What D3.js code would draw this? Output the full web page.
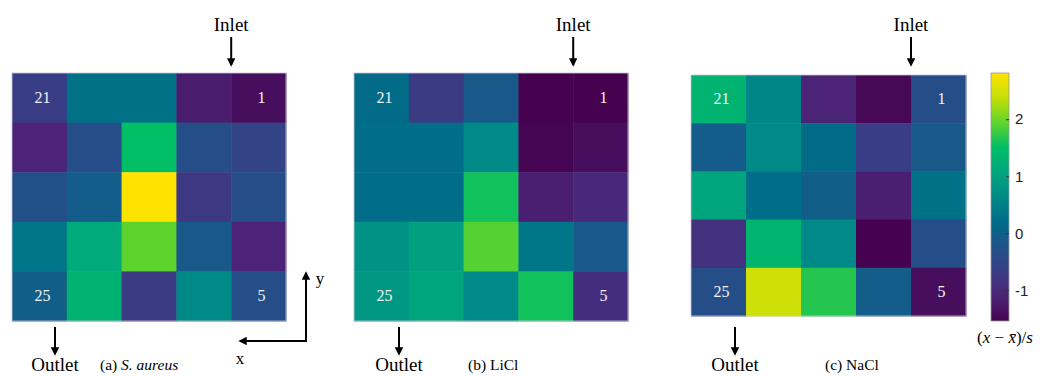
<!DOCTYPE html>
<html>
<head>
<meta charset="utf-8">
<script src="https://cdn.jsdelivr.net/npm/d3@7"></script>
<style>
  html, body { margin: 0; padding: 0; background: #fff; }
  svg { display: block; }
</style>
</head>
<body>
<svg id="chart" width="1040" height="376"></svg>
<script>
// ---- data (rows top -> bottom, columns left -> right), standardized values ----
const panelNames = ["(a) ", "(b) LiCl", "(c) NaCl"];
const rows = [0, 1, 2, 3, 4];
const cols = [0, 1, 2, 3, 4];
const valuesSAureus = [
  [-0.68, 0.28, 0.28, -1.20, -1.38],
  [-1.10, -0.33, 1.50, -0.33, -0.55],
  [-0.29, -0.07, 2.80, -0.77, -0.33],
  [0.32, 1.15, 1.93, -0.12, -1.10],
  [-0.03, 1.28, -0.72, 0.63, -0.33]
];
const valuesLiCl = [
  [0.19, -0.72, -0.12, -1.55, -1.55],
  [0.23, 0.23, 0.63, -1.50, -1.38],
  [0.23, 0.23, 1.58, -1.16, -1.03],
  [0.76, 0.97, 1.89, 0.36, -0.12],
  [0.84, 1.06, 0.63, 1.58, -0.94]
];
const valuesNaCl = [
  [1.32, 0.58, -1.10, -1.46, -0.33],
  [-0.07, 0.63, 0.19, -0.68, -0.12],
  [1.06, 0.23, -0.03, -1.16, 0.28],
  [-0.90, 1.36, 0.63, -1.55, -0.33],
  [-0.33, 2.45, 1.67, -0.07, -1.38]
];
const labeledCells = [21, 1, 25, 5];
const colorDomain = [-1.54, 2.81];
const colorTicks = [-1, 0, 1, 2];
// colormap stops (viridis-like, as rendered in the figure)
const cmapColors = ["#46024f", "#4b2377", "#393e85", "#20528a", "#006c88", "#008a87",
                    "#00a67e", "#00bd66", "#5fd52c", "#c4df08", "#ffe300"];

// ---- layout ----
const svg = d3.select("#chart");
const panels = [
  { values: valuesSAureus, x0: 12, x1: 286, y0: 73, y1: 321, outlet: 55, italic: "S. aureus" },
  { values: valuesLiCl,   x0: 354, x1: 628, y0: 73, y1: 321, outlet: 399, italic: null },
  { values: valuesNaCl,   x0: 691, x1: 966, y0: 75, y1: 316, outlet: 735, italic: null }
];
const captionX = [100, 468, 825];
const color = d3.scaleLinear()
  .domain(cmapColors.map((_, i) => colorDomain[0] + i / (cmapColors.length - 1) * (colorDomain[1] - colorDomain[0])))
  .range(cmapColors).interpolate(d3.interpolateRgb).clamp(true);

const defs = svg.append("defs");
defs.append("marker").attr("id", "arr").attr("viewBox", "0 0 10 10")
  .attr("refX", 8).attr("refY", 5).attr("markerWidth", 4.2).attr("markerHeight", 4.2)
  .attr("markerUnits", "strokeWidth").attr("orient", "auto")
  .append("path").attr("d", "M0,0 L10,5 L0,10 Z").attr("fill", "#000");

const serif = "'Liberation Serif', 'DejaVu Serif', serif";

panels.forEach((p, i) => {
  const x = d3.scaleBand().domain(cols).range([p.x0, p.x1]);
  const y = d3.scaleBand().domain(rows).range([p.y0, p.y1]);
  const g = svg.append("g");
  const cells = [];
  rows.forEach(r => cols.forEach(c => cells.push({ r, c, v: p.values[r][c], n: (4 - c) * 5 + r + 1 })));
  g.selectAll("rect").data(cells).join("rect")
    .attr("x", d => x(d.c)).attr("y", d => y(d.r))
    .attr("width", x.bandwidth() + 0.5).attr("height", y.bandwidth() + 0.5)
    .attr("fill", d => color(d.v));
  g.selectAll("text.num").data(cells.filter(d => labeledCells.includes(d.n))).join("text")
    .attr("class", "num")
    .attr("x", d => x(d.c) + x.bandwidth() / 2 + 3)
    .attr("y", d => y(d.r) + y.bandwidth() / 2 + 5)
    .attr("text-anchor", "middle")
    .attr("font-family", serif).attr("font-size", 16).attr("fill", "#f2f2f2")
    .text(d => d.n);
  g.append("rect").attr("x", p.x0).attr("y", p.y0).attr("width", p.x1 - p.x0).attr("height", p.y1 - p.y0)
    .attr("fill", "none").attr("stroke", "#c9c3d6").attr("stroke-width", 0.8);

  // inlet (boundary between columns 4 and 5)
  const inX = x(4);
  svg.append("text").attr("x", inX).attr("y", 31).attr("text-anchor", "middle")
    .attr("font-family", serif).attr("font-size", 19).text("Inlet");
  svg.append("line").attr("x1", inX).attr("x2", inX).attr("y1", 37).attr("y2", 65)
    .attr("stroke", "#000").attr("stroke-width", 2).attr("marker-end", "url(#arr)");

  // outlet
  svg.append("line").attr("x1", p.outlet).attr("x2", p.outlet).attr("y1", 327).attr("y2", 354)
    .attr("stroke", "#000").attr("stroke-width", 2).attr("marker-end", "url(#arr)");
  svg.append("text").attr("x", p.outlet).attr("y", 371).attr("text-anchor", "middle")
    .attr("font-family", serif).attr("font-size", 19).text("Outlet");

  // caption
  const cap = svg.append("text").attr("x", captionX[i]).attr("y", 370)
    .attr("font-family", serif).attr("font-size", 15.5).text(panelNames[i]);
  if (p.italic) cap.append("tspan").attr("font-style", "italic").text(p.italic);
});

// x / y direction arrows
svg.append("path").attr("d", "M306,341 L306,273").attr("stroke", "#000").attr("stroke-width", 2)
  .attr("fill", "none").attr("marker-end", "url(#arr)");
svg.append("path").attr("d", "M307,341 L240,341").attr("stroke", "#000").attr("stroke-width", 2)
  .attr("fill", "none").attr("marker-end", "url(#arr)");
svg.append("text").attr("x", 320).attr("y", 284).attr("text-anchor", "middle")
  .attr("font-family", serif).attr("font-size", 17).text("y");
svg.append("text").attr("x", 240).attr("y", 364).attr("text-anchor", "middle")
  .attr("font-family", serif).attr("font-size", 17).text("x");

// ---- colorbar ----
const cb = { x: 991, w: 18, y0: 73, y1: 321 };
const cbScale = d3.scaleLinear().domain(colorDomain).range([cb.y1, cb.y0]);
const grad = defs.append("linearGradient").attr("id", "cbgrad")
  .attr("x1", 0).attr("y1", 1).attr("x2", 0).attr("y2", 0);
d3.range(0, 1.0001, 0.05).forEach(t => {
  grad.append("stop").attr("offset", t)
    .attr("stop-color", color(colorDomain[0] + t * (colorDomain[1] - colorDomain[0])));
});
svg.append("rect").attr("x", cb.x).attr("y", cb.y0).attr("width", cb.w).attr("height", cb.y1 - cb.y0)
  .attr("fill", "url(#cbgrad)").attr("stroke", "#9a9a9a").attr("stroke-width", 0.8);
const axis = d3.axisRight(cbScale).tickValues(colorTicks).tickSize(-3).tickPadding(6)
  .tickFormat(d => String(d));
const ag = svg.append("g").attr("transform", `translate(${cb.x + cb.w},0)`).call(axis);
ag.select(".domain").remove();
ag.selectAll("line").attr("stroke", "#333");
ag.selectAll("text").attr("font-family", "'Liberation Sans', Arial, sans-serif")
  .attr("font-size", 15).attr("fill", "#222");

const lbl = svg.append("text").attr("x", 1005).attr("y", 343).attr("text-anchor", "middle")
  .attr("font-family", serif).attr("font-size", 17);
lbl.append("tspan").text("(");
lbl.append("tspan").attr("font-style", "italic").text("x");
lbl.append("tspan").text(" \u2212 ");
lbl.append("tspan").attr("font-style", "italic").text("x\u0304");
lbl.append("tspan").text(")/");
lbl.append("tspan").attr("font-style", "italic").text("s");
</script>
</body>
</html>
